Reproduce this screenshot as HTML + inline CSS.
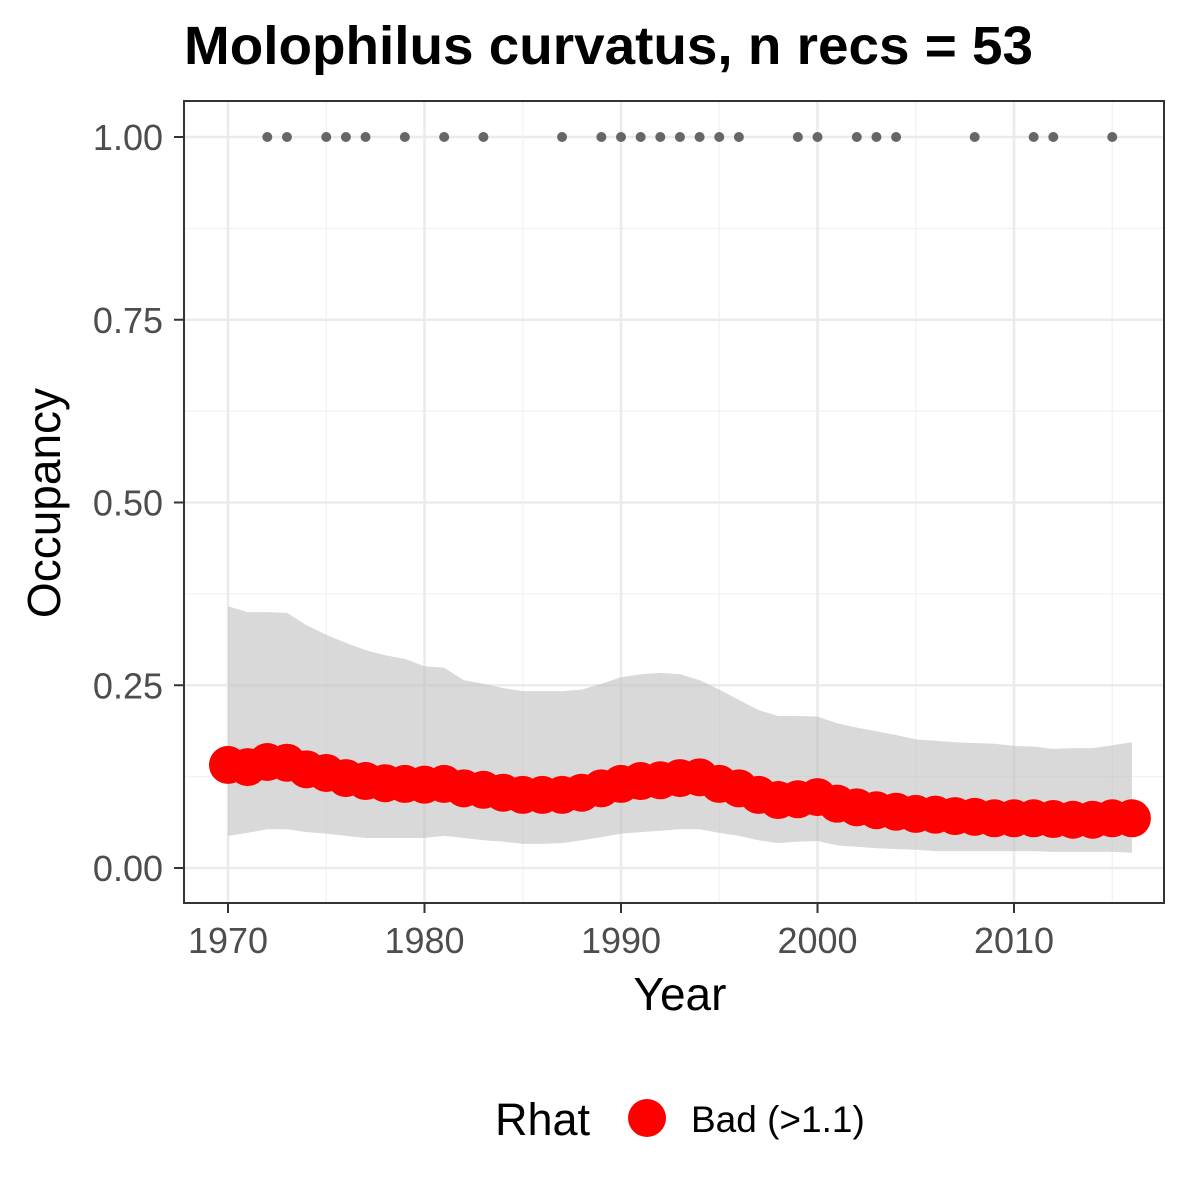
<!DOCTYPE html>
<html><head><meta charset="utf-8"><style>
html,body{margin:0;padding:0;background:#fff;}
svg{display:block;font-family:"Liberation Sans",Arial,sans-serif;}
</style></head><body>
<svg id="chart" width="1200" height="1200" viewBox="0 0 1200 1200" xmlns="http://www.w3.org/2000/svg">
<rect width="1200" height="1200" fill="#fff"/>
<text x="184" y="64" font-size="54" font-weight="bold" fill="#000" textLength="849" lengthAdjust="spacingAndGlyphs">Molophilus curvatus, n recs = 53</text>
<g id="grid"></g>
<g id="band"></g>
<g id="recs"></g>
<g id="pts"></g>
<rect x="184" y="101" width="980" height="802" fill="none" stroke="#333" stroke-width="2"/>
<g id="axes"></g>
<text x="680" y="1010" font-size="46" text-anchor="middle" fill="#000">Year</text>
<text transform="translate(60,503) rotate(-90)" font-size="46" text-anchor="middle" fill="#000">Occupancy</text>
<g>
<text x="495" y="1135" font-size="45" fill="#000">Rhat</text>
<circle cx="647" cy="1118" r="19" fill="#ff0000"/>
<text x="691" y="1132" font-size="37" fill="#000">Bad (&gt;1.1)</text>
</g>
</svg>
<script>
const years = [1970,1971,1972,1973,1974,1975,1976,1977,1978,1979,1980,1981,1982,1983,1984,1985,1986,1987,1988,1989,1990,1991,1992,1993,1994,1995,1996,1997,1998,1999,2000,2001,2002,2003,2004,2005,2006,2007,2008,2009,2010,2011,2012,2013,2014,2015,2016];
const meanOcc = [.141,.138,.145,.144,.135,.130,.123,.119,.116,.115,.114,.115,.109,.107,.103,.100,.100,.100,.103,.109,.115,.119,.120,.123,.124,.115,.109,.100,.093,.094,.097,.088,.083,.079,.077,.074,.073,.071,.070,.068,.068,.068,.067,.066,.066,.068,.068];
const upperOcc = [.358,.350,.350,.349,.332,.319,.308,.298,.291,.286,.276,.274,.257,.252,.246,.242,.242,.242,.244,.252,.261,.265,.267,.265,.257,.244,.230,.216,.208,.208,.207,.198,.192,.187,.182,.176,.174,.172,.171,.170,.167,.166,.163,.164,.164,.168,.172];
const lowerOcc = [.044,.048,.053,.053,.049,.047,.044,.041,.041,.041,.041,.044,.041,.038,.036,.033,.033,.034,.038,.042,.047,.049,.051,.053,.053,.048,.044,.038,.034,.036,.037,.031,.029,.027,.026,.025,.023,.023,.023,.023,.023,.023,.022,.022,.022,.022,.021];
const recordYears = [1972,1973,1975,1976,1977,1979,1981,1983,1987,1989,1990,1991,1992,1993,1994,1995,1996,1999,2000,2002,2003,2004,2008,2011,2012,2015];
const xTicks = [1970,1980,1990,2000,2010];
const xTickLabels = ["1970","1980","1990","2000","2010"];
const yTicks = [0,0.25,0.5,0.75,1];
const yTickLabels = ["0.00","0.25","0.50","0.75","1.00"];

const NS="http://www.w3.org/2000/svg";
const X = y => 228 + (y-1970)*19.65;
const Y = v => 868 - v*731;
function mk(tag, attrs, parent){const e=document.createElementNS(NS,tag);for(const k in attrs)e.setAttribute(k,attrs[k]);parent.appendChild(e);return e;}
const grid=document.getElementById('grid'), band=document.getElementById('band'), recs=document.getElementById('recs'), pts=document.getElementById('pts'), axes=document.getElementById('axes');

for(let i=0;i<xTicks.length;i++){
  const l=mk('line',{x1:X(xTicks[i]+5),x2:X(xTicks[i]+5),y1:101,y2:903,stroke:'#f2f2f2','stroke-width':1.3},grid);
  
  
}
for(let i=0;i<yTicks.length-1;i++){
  const l=mk('line',{x1:184,x2:1164,y1:Y(yTicks[i]+0.125),y2:Y(yTicks[i]+0.125),stroke:'#f2f2f2','stroke-width':1.3},grid);
  
  
}
xTicks.forEach((t,i)=>{
  const l=mk('line',{x1:X(t),x2:X(t),y1:101,y2:903,stroke:'#ebebeb','stroke-width':2.6},grid);
  
  
  const tk=mk('line',{x1:X(t),x2:X(t),y1:903,y2:913,stroke:'#333','stroke-width':2},axes);
  
  
  const tx=mk('text',{x:X(t),y:953,'font-size':36,'text-anchor':'middle',fill:'#4d4d4d'},axes);
  tx.textContent=xTickLabels[i];
  
  
});
yTicks.forEach((t,i)=>{
  const l=mk('line',{x1:184,x2:1164,y1:Y(t),y2:Y(t),stroke:'#ebebeb','stroke-width':2.6},grid);
  
  
  const tk=mk('line',{x1:174,x2:184,y1:Y(t),y2:Y(t),stroke:'#333','stroke-width':2},axes);
  
  
  const tx=mk('text',{x:163,y:Y(t)+13,'font-size':36,'text-anchor':'end',fill:'#4d4d4d'},axes);
  tx.textContent=yTickLabels[i];
  
  
});
let d='';
years.forEach((y,i)=>{d+=(i?'L':'M')+X(y)+','+Y(upperOcc[i]);});
for(let i=years.length-1;i>=0;i--){d+='L'+X(years[i])+','+Y(lowerOcc[i]);}
const b=mk('path',{d:d+'Z',fill:'#bfbfbf','fill-opacity':0.6},band);


recordYears.forEach(y=>{
  const c=mk('circle',{cx:X(y),cy:Y(1),r:5,fill:'#666'},recs);
  
  
});
years.forEach((y,i)=>{
  const c=mk('circle',{cx:X(y),cy:Y(meanOcc[i]),r:19,fill:'#ff0000'},pts);
  
  
});
</script>
</body></html>
